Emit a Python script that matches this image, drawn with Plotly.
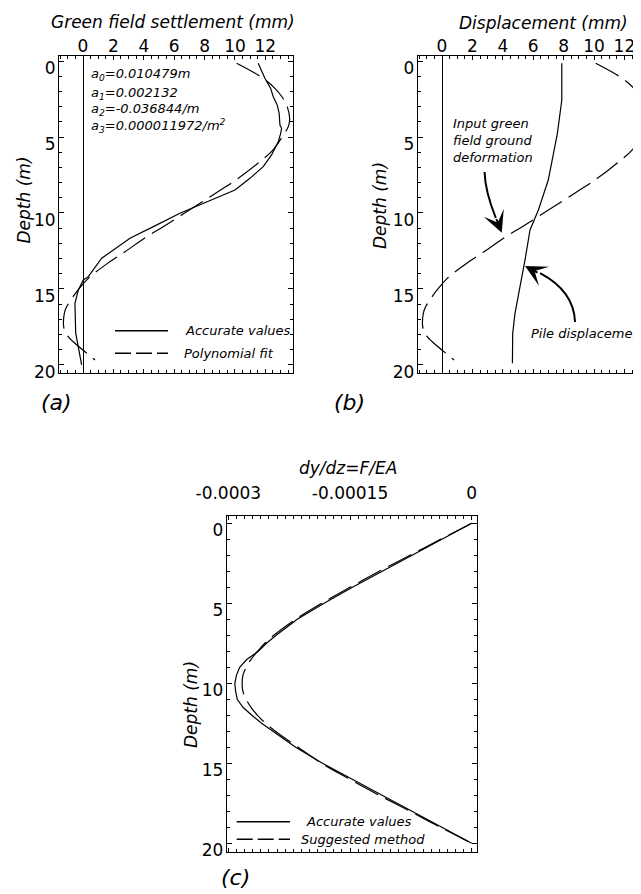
import plotly.graph_objects as go

# page has an 8px body margin: draw a 633x886 figure so the page is 641x894
OFF = 8
W, H = 641 - OFF, 894 - OFF
FONT = "DejaVu Sans"

# ---------------- data ----------------
# (a) green field settlement (mm) vs depth (m)
a_acc_depth = [0.15, 1.14, 1.80, 2.35, 2.89, 3.44, 4.21, 4.43, 4.76, 5.31, 6.18, 6.95,
               7.72, 8.49, 9.36, 10.02, 10.9, 11.66, 12.98, 14.19, 14.41, 15.07, 15.94,
               17.91, 20.0]
a_acc_settle = [11.53, 11.97, 12.35, 12.52, 12.78, 12.91, 12.96, 13.07, 13.01, 12.85, 12.41,
                11.86, 10.99, 10.0, 7.94, 6.38, 4.63, 3.09, 1.23, 0.35, 0.02, -0.31, -0.53,
                -0.48, -0.09]

a_fit_depth = [0.15, 1.14, 1.80, 2.35, 3.0, 3.8, 4.32, 5.0, 5.86, 6.62, 7.72, 8.38, 9.36,
               10.9, 11.56, 12.55, 13.2, 14.3, 15.1, 16.16, 16.6, 17.6, 18.1, 18.47, 19.67]
a_fit_settle = [10.11, 11.86, 12.63, 13.09, 13.44, 13.6, 13.51, 13.1, 12.5, 11.64, 10.22,
                9.23, 7.70, 5.28, 4.19, 2.76, 1.78, 0.35, -0.35, -1.07, -1.23, -1.25, -1.0,
                -0.64, 0.79]

# (b) pile displacement (mm) vs depth (m); input = polynomial fit above
b_pile_depth = [0.15, 2.57, 4.76, 6.07, 7.83, 9.8, 11.12, 13.09, 14.85, 16.6, 17.91, 19.89]
b_pile_disp = [7.88, 7.88, 7.59, 7.32, 6.99, 6.34, 5.79, 5.46, 5.13, 4.80, 4.65, 4.63]

# (c) dy/dz = F/EA vs depth (m)
c_depth = [0, 1, 2, 3, 4, 5, 6, 7, 7.5, 8, 8.5, 9, 9.5, 10, 10.5, 11, 11.5, 12, 12.5, 13,
           14, 15, 16, 17, 18, 19, 20]
c_accurate = [0, -0.0000370, -0.0000740, -0.000111, -0.000147, -0.000182, -0.000215,
              -0.000241, -0.000253, -0.000263, -0.000277, -0.000286, -0.000290, -0.000292,
              -0.000291, -0.000289, -0.000282, -0.000271, -0.000259, -0.000245, -0.000217,
              -0.000184, -0.000147, -0.000110, -0.0000736, -0.0000368, 0]
c_suggested = [0, -0.0000385, -0.000076, -0.000114, -0.000150, -0.000185, -0.000217,
               -0.000244, -0.000255, -0.000264, -0.000272, -0.000278, -0.000282, -0.000283,
               -0.000282, -0.000278, -0.000272, -0.000264, -0.000254, -0.000242, -0.000214,
               -0.000185, -0.000150, -0.000114, -0.000076, -0.0000385, 0]

ab_xticks = [0, 2, 4, 6, 8, 10, 12]
c_xticks = [-0.0003, -0.00015, 0]
c_xticktext = ["-0.0003", "-0.00015", "0"]
depth_ticks = [0, 5, 10, 15, 20]


def px(x):
    return (x - OFF) / W


def py(y):
    return 1 - (y - OFF) / H


fig = go.Figure()
LW = 1.2
DASH = "26px,8px"

fig.add_trace(go.Scatter(x=a_acc_settle, y=a_acc_depth, mode="lines",
                         line=dict(color="black", width=LW), xaxis="x", yaxis="y"))
fig.add_trace(go.Scatter(x=a_fit_settle, y=a_fit_depth, mode="lines",
                         line=dict(color="black", width=LW, dash=DASH, shape="spline"),
                         xaxis="x", yaxis="y"))
fig.add_trace(go.Scatter(x=a_fit_settle, y=a_fit_depth, mode="lines",
                         line=dict(color="black", width=LW, dash=DASH, shape="spline"),
                         xaxis="x2", yaxis="y2"))
fig.add_trace(go.Scatter(x=b_pile_disp, y=b_pile_depth, mode="lines",
                         line=dict(color="black", width=LW), xaxis="x2", yaxis="y2"))
fig.add_trace(go.Scatter(x=c_accurate, y=c_depth, mode="lines",
                         line=dict(color="black", width=LW), xaxis="x3", yaxis="y3"))
fig.add_trace(go.Scatter(x=c_suggested, y=c_depth, mode="lines",
                         line=dict(color="black", width=LW, dash=DASH, shape="spline"),
                         xaxis="x3", yaxis="y3"))

tickfont = dict(family=FONT, size=17, color="black")


def xax(domain, rng, anchor, tickvals, ticktext=None, minor_dtick=0.5, zeroline=True,
        standoff=-4):
    d = dict(domain=domain, range=rng, anchor=anchor, side="top", automargin=False,
             tickmode="array", tickvals=tickvals,
             ticktext=ticktext if ticktext else [str(v) for v in tickvals],
             ticks="inside", ticklen=4, tickwidth=1, tickcolor="black",
             showline=True, linecolor="black", linewidth=1, mirror="ticks",
             showgrid=False, zeroline=zeroline, zerolinecolor="black", zerolinewidth=1,
             tickfont=tickfont, ticklabelstandoff=standoff,
             minor=dict(tickmode="linear", tick0=0, dtick=minor_dtick, ticks="inside",
                        ticklen=3, tickcolor="black", showgrid=False))
    return d


def yax(domain, rng, anchor, mirror="ticks"):
    return dict(domain=domain, range=rng, anchor=anchor, automargin=False,
                tickmode="array", tickvals=depth_ticks, ticktext=[str(v) for v in depth_ticks],
                ticks="inside", ticklen=5, tickwidth=1, tickcolor="black",
                showline=True, linecolor="black", linewidth=1, mirror=mirror,
                showgrid=False, zeroline=False, tickfont=tickfont,
                ticklabelstandoff=-1, ticklabelshift=-7,
                minor=dict(tickmode="linear", tick0=0, dtick=1, ticks="inside",
                           ticklen=3, tickcolor="black", showgrid=False))


fig.update_layout(
    template="none",
    width=W, height=H, margin=dict(l=0, r=0, t=0, b=0, pad=0), autosize=False,
    paper_bgcolor="white", plot_bgcolor="white", showlegend=False,
    xaxis=xax([px(59), px(293)], [-1.58, 13.82], "y", ab_xticks),
    yaxis=yax([py(373), py(56)], [20.53, -0.33], "x"),
    xaxis2=xax([px(417.7), 1.0], [-1.6, 13.09], "y2", ab_xticks),
    yaxis2=yax([py(373), py(56)], [20.53, -0.33], "x2", mirror=False),
    xaxis3=xax([px(226.7), px(477.3)], [-0.000302, 0.0000069], "y3", c_xticks,
               c_xticktext, minor_dtick=0.00001, zeroline=False, standoff=9),
    yaxis3=yax([py(851.7), py(515.7)], [20.525, -0.475], "x3"),
)


def note(text, x, y, size=17, xanchor="center", yanchor="middle", angle=0, align="center"):
    fig.add_annotation(text=text, x=px(x), y=py(y), xref="paper", yref="paper",
                       showarrow=False, xanchor=xanchor, yanchor=yanchor, textangle=angle,
                       align=align, font=dict(family=FONT, size=size, color="black"))


# titles
note("<i>Green field settlement (mm)</i>", 173, 22)
note("<i>Displacement (mm)</i>", 543, 23)
note("<i>dy/dz=F/EA</i>", 347.5, 468)
note("<i>Depth (m)</i>", 23.5, 200, angle=-90)
note("<i>Depth (m)</i>", 380, 206, angle=-90)
note("<i>Depth (m)</i>", 191, 705, angle=-90)

# panel labels
note("<i>(a)</i>", 56, 402, size=22)
note("<i>(b)</i>", 349, 402, size=22)
note("<i>(c)</i>", 235, 877, size=22)

# coefficients
coef = ["<i>a<sub>0</sub>=0.010479m</i>", "<i>a<sub>1</sub>=0.002132</i>",
        "<i>a<sub>2</sub>=-0.036844/m</i>", "<i>a<sub>3</sub>=0.000011972/m<sup>2</sup></i>"]
for t, yy in zip(coef, [75, 93, 110, 126]):
    note(t, 89.3, yy, size=13, xanchor="left")

# legends (a)
fig.add_shape(type="line", xref="paper", yref="paper", x0=px(115), x1=px(168),
              y0=py(330.7), y1=py(330.7), line=dict(color="black", width=1.6))
fig.add_shape(type="line", xref="paper", yref="paper", x0=px(115), x1=px(168),
              y0=py(353.3), y1=py(353.3), line=dict(color="black", width=1.6, dash="16px,5px"))
note("<i>Accurate values</i>", 182.7, 330.5, size=13, xanchor="left")
note("<i>Polynomial fit</i>", 181.7, 353, size=13, xanchor="left")

# legends (c)
fig.add_shape(type="line", xref="paper", yref="paper", x0=px(236.7), x1=px(290),
              y0=py(821.7), y1=py(821.7), line=dict(color="black", width=1.6))
fig.add_shape(type="line", xref="paper", yref="paper", x0=px(236.7), x1=px(290),
              y0=py(839.3), y1=py(839.3), line=dict(color="black", width=1.6, dash="16px,5px"))
note("<i>Accurate values</i>", 359, 821.5, size=13)
note("<i>Suggested method</i>", 363, 839.3, size=13)

# (b) annotations
note("<i>Input green<br>field ground<br>deformation</i>", 451, 140.5, size=13,
     xanchor="left", align="left")
note("<i>Pile displacement</i>", 528.7, 333, size=13, xanchor="left")

# curved arrows (panel b, data coords)
fig.add_shape(type="path", xref="x2", yref="y2",
              path="M 2.80,7.30 Q 2.83,8.55 3.54,10.33",
              line=dict(color="black", width=2))
fig.add_annotation(x=3.93, y=11.30, xref="x2", yref="y2", ax=-6, ay=-15, text="",
                   showarrow=True, arrowhead=3, arrowsize=1.8, arrowwidth=2,
                   arrowcolor="black")
fig.add_shape(type="path", xref="x2", yref="y2",
              path="M 8.75,17.17 Q 8.68,15.13 6.45,13.95",
              line=dict(color="black", width=2))
fig.add_annotation(x=5.46, y=13.49, xref="x2", yref="y2", ax=14, ay=7.5, text="",
                   showarrow=True, arrowhead=3, arrowsize=1.8, arrowwidth=2,
                   arrowcolor="black")

fig.write_html("out.html")
